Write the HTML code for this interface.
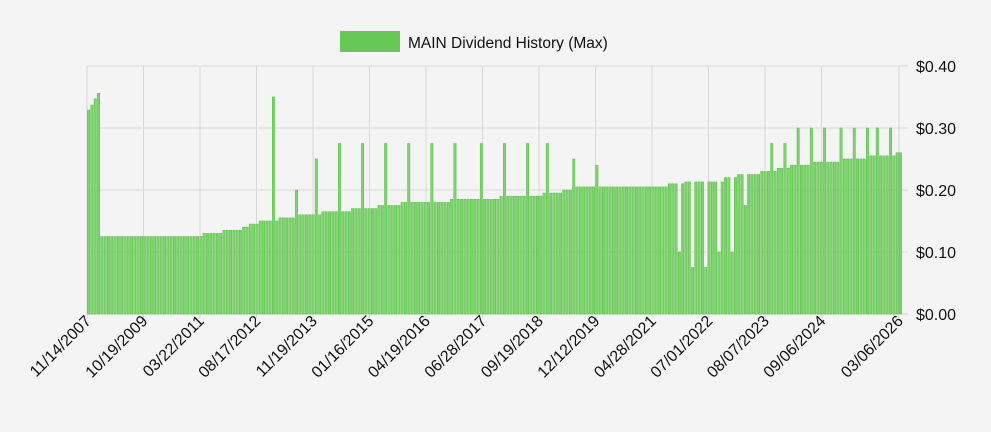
<!DOCTYPE html>
<html><head><meta charset="utf-8"><style>
html,body{margin:0;padding:0;background:#f4f4f4;width:991px;height:432px;overflow:hidden}
svg{display:block;font-family:"Liberation Sans",Arial,sans-serif}
</style></head><body>
<svg id="c" width="991" height="432" xmlns="http://www.w3.org/2000/svg">
<rect width="991" height="432" fill="#f4f4f4"/>
<rect x="340" y="31" width="60" height="21" fill="#66c955"/>
<text x="408" y="48" font-size="15.5" fill="#111">MAIN Dividend History (Max)</text>
<g id="grid" stroke="#d8d8d8" stroke-width="1"></g>
<g id="bars"></g>
<g id="lab" font-size="16" fill="#111"></g>
</svg>
<script>
var NS="http://www.w3.org/2000/svg";
function el(t,a,p,txt){var e=document.createElementNS(NS,t);for(var k in a)e.setAttribute(k,a[k]);if(txt)e.textContent=txt;p.appendChild(e);return e;}
var g=document.getElementById('grid'),b=document.getElementById('bars'),L=document.getElementById('lab');
var y0=314,sc=620,L0=87,R0=903;
[0,0.1,0.2,0.3,0.4].forEach(function(v){var y=y0-v*sc;el('line',{x1:L0,x2:908,y1:y,y2:y},g);
el('text',{x:916,y:y+6,'font-size':16},L,'$'+v.toFixed(2));});
var labs=["11/14/2007","10/19/2009","03/22/2011","08/17/2012","11/19/2013","01/16/2015","04/19/2016","06/28/2017","09/19/2018","12/12/2019","04/28/2021","07/01/2022","08/07/2023","09/06/2024"];
var xs=labs.map(function(_,i){return 87+i*56.5;});labs.push("03/06/2026");xs.push(899);
labs.forEach(function(t,i){var x=xs[i];el('line',{x1:x,x2:x,y1:66,y2:318},g);
el('text',{x:x+5,y:322,'text-anchor':'end',transform:'rotate(-45 '+(x+5)+' 322)'},L,t);});
function base(x){
 var lv=[[99,.125],[200,.13],[220,.135],[240,.14],[247,.145],[257,.15],[278,.155],[298,.16],[320,.165],[350,.17],[375,.175],[400,.18],[450,.185],[500,.19],[540,.195],[560,.2],[575,.205],[665,.21],[683,.213],[722,.22],[736,.225],[760,.23],[775,.235],[788,.24],[810,.245],[840,.25],[868,.255],[895,.26]];
 var v=.125;lv.forEach(function(p){if(x>=p[0])v=p[1];});return v;}
var first=[.329,.337,.347,.356];
var spikes=[[274,.35],[297,.2],[318,.25],[341,.275],[364,.275],[387,.275],[410,.275],[433,.275],[456,.275],[480,.275],[503,.275],[526,.275],[549,.275],[573,.25],[596,.24],[679,.1],[693,.075],[706,.075],[720,.1],[733,.1],[747,.175],[773,.275],[786,.275],[799,.3],[813,.3],[826,.3],[840,.3],[853,.3],[866,.3],[879,.3],[892,.3]];
var step=3.3,xsb=[];for(var x=87.5;x<R0-1;x+=step)xsb.push(x);
var vals=xsb.map(function(x,i){return i<4?first[i]:base(x);});
spikes.forEach(function(s){var bi=0,bd=1e9;xsb.forEach(function(x,i){var d=Math.abs(x+1.2-s[0]);if(d<bd){bd=d;bi=i;}});vals[bi]=s[1];});
xsb.forEach(function(x,i){var h=vals[i]*sc;el('rect',{x:x,y:y0-h,width:2.3,height:h,fill:'#80d470',stroke:'#5cc24b','stroke-width':0.6},b);});
el('line',{x1:L0,x2:908,y1:y0,y2:y0,stroke:'#cfcfcf'},g);
</script>
</body></html>
